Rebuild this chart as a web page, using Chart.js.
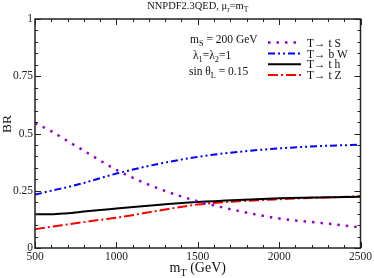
<!DOCTYPE html>
<html><head><meta charset="utf-8">
<script src="https://cdn.jsdelivr.net/npm/chart.js@4/dist/chart.umd.min.js"></script>
<style>html,body{margin:0;padding:0;background:#fff;}canvas{display:block;}</style>
</head><body>
<canvas id="c" width="374" height="278"></canvas>
<script>
const mT   = [500, 600, 700, 800, 900, 1000, 1250, 1500, 1750, 2000, 2250, 2500];
const brTS = [0.545, 0.51, 0.467, 0.425, 0.382, 0.341, 0.262, 0.204, 0.162, 0.129, 0.11, 0.09];
const brBW = [0.233, 0.25, 0.266, 0.284, 0.305, 0.325, 0.366, 0.398, 0.42, 0.435, 0.445, 0.451];
const brTH = [0.147, 0.147, 0.152, 0.159, 0.166, 0.172, 0.188, 0.201, 0.21, 0.217, 0.221, 0.224];
const brTZ = [0.082, 0.093, 0.103, 0.113, 0.123, 0.132, 0.162, 0.19, 0.204, 0.213, 0.22, 0.226];
const xTicks = [500, 1000, 1500, 2000, 2500];
const yTicks = [0, 0.25, 0.5, 0.75, 1];
const legendLabels = ['T\u2192 t S', 'T\u2192 b W', 'T\u2192 t h', 'T\u2192 t Z'];

const SERIF = "'Liberation Serif','DejaVu Serif',serif";
const styles = [
  {color:'#9400D3', width:2.5, dash:[2.5,6]},
  {color:'#0000FF', width:2, dash:[7,3,2,3,2,3]},
  {color:'#000000', width:2, dash:[]},
  {color:'#FF0000', width:2, dash:[10,3,2,3]}
];
const series = [brTS, brBW, brTH, brTZ];

function pts(arr){ return mT.map((x,i)=>({x:x, y:arr[i]})); }

function drawRich(ctx, parts, x, y, size){
  let cx = x;
  for (const p of parts){
    const sub = p[1];
    const fs = sub ? size*0.72 : size;
    ctx.font = fs + 'px ' + SERIF;
    ctx.fillText(p[0], cx, sub ? y + size*0.28 : y);
    cx += ctx.measureText(p[0]).width;
  }
  return cx - x;
}
function richWidth(ctx, parts, size){
  let w = 0;
  for (const p of parts){
    ctx.font = (p[1] ? size*0.72 : size) + 'px ' + SERIF;
    w += ctx.measureText(p[0]).width;
  }
  return w;
}

const decor = {
  id:'decor',
  afterDatasetsDraw(chart){
    const ctx = chart.ctx, a = chart.chartArea;
    const xs = chart.scales.x, ys = chart.scales.y;
    ctx.save();
    ctx.strokeStyle = '#222';
    ctx.lineWidth = 1;
    ctx.beginPath();
    for (let v = 500; v <= 2500; v += 100){
      const px = Math.round(xs.getPixelForValue(v)) + 0.5;
      const len = (v % 500 === 0) ? 6 : 3;
      ctx.moveTo(px, a.bottom); ctx.lineTo(px, a.bottom - len);
      ctx.moveTo(px, a.top); ctx.lineTo(px, a.top + len);
    }
    for (let k = 0; k <= 20; k++){
      const v = k*0.05;
      const py = Math.round(ys.getPixelForValue(v)) + 0.5;
      const len = (k % 5 === 0) ? 6 : 3;
      ctx.moveTo(a.left, py); ctx.lineTo(a.left + len, py);
      ctx.moveTo(a.right, py); ctx.lineTo(a.right - len, py);
    }
    ctx.stroke();
    ctx.lineWidth = 1.5;
    ctx.strokeRect(a.left, a.top, a.right - a.left, a.bottom - a.top);
    ctx.restore();
  },
  afterDraw(chart){
    const ctx = chart.ctx, a = chart.chartArea;
    ctx.save();
    ctx.fillStyle = '#111';
    ctx.textBaseline = 'alphabetic';
    ctx.textAlign = 'left';
    const tParts = [['NNPDF2.3QED, \u03bc',0],['r',1],['=m',0],['T',1]];
    const tw = richWidth(ctx, tParts, 10.5);
    drawRich(ctx, tParts, (a.left + a.right)/2 - tw/2, 9, 10.5);
    drawRich(ctx, [['m',0],['S',1],[' = 200 GeV',0]], 190, 43, 11.5);
    drawRich(ctx, [['\u03bb',0],['1',1],['=\u03bb',0],['2',1],['=1',0]], 193, 59, 11.5);
    drawRich(ctx, [['sin \u03b8',0],['L',1],[' = 0.15',0]], 189, 75, 11.5);
    const ly = [42.5, 53.5, 64.3, 75];
    for (let i = 0; i < 4; i++){
      const s = styles[i];
      ctx.beginPath();
      ctx.strokeStyle = s.color; ctx.lineWidth = s.width; ctx.setLineDash(s.dash);
      ctx.moveTo(268, ly[i]); ctx.lineTo(301, ly[i]); ctx.stroke();
      ctx.setLineDash([]);
      ctx.font = '11.5px ' + SERIF;
      ctx.fillStyle = '#111';
      ctx.fillText(legendLabels[i], 307, ly[i] + 4);
    }
    const xParts = [['m',0],['T',1],[' (GeV)',0]];
    const xw = richWidth(ctx, xParts, 14);
    drawRich(ctx, xParts, (a.left + a.right)/2 - xw/2, 272, 14);
    ctx.translate(11, 124);
    ctx.rotate(-Math.PI/2);
    ctx.font = '13.5px ' + SERIF;
    ctx.textAlign = 'center';
    ctx.fillText('BR', 0, 0);
    ctx.restore();
  }
};

new Chart(document.getElementById('c'), {
  type:'line',
  data:{
    datasets: series.map((arr,i)=>({
      label: legendLabels[i],
      data: pts(arr),
      borderColor: styles[i].color,
      borderWidth: styles[i].width,
      borderDash: styles[i].dash,
      borderCapStyle: 'butt',
      pointRadius: 0,
      fill: false,
      cubicInterpolationMode: 'monotone'
    }))
  },
  options:{
    responsive:false,
    animation:false,
    devicePixelRatio:1,
    layout:{padding:{left:0, right:11, top:19, bottom:0}},
    plugins:{legend:{display:false}, title:{display:false}, tooltip:{enabled:false}},
    scales:{
      x:{
        type:'linear', min:500, max:2500,
        afterBuildTicks(s){ s.ticks = xTicks.map(v=>({value:v})); },
        grid:{display:false, drawTicks:false},
        border:{display:false},
        ticks:{font:{family:SERIF, size:11.5}, color:'#222', padding:2, maxRotation:0, autoSkip:false,
          callback:(v)=>String(v)},
        afterFit(s){ s.height = 30; }
      },
      y:{
        type:'linear', min:0, max:1,
        afterBuildTicks(s){ s.ticks = yTicks.map(v=>({value:v})); },
        grid:{display:false, drawTicks:false},
        border:{display:false},
        ticks:{font:{family:SERIF, size:11.5}, color:'#222', padding:2, autoSkip:false,
          callback:(v)=>String(v)},
        afterFit(s){ s.width = 35; }
      }
    }
  },
  plugins:[decor]
});
</script>
</body></html>
